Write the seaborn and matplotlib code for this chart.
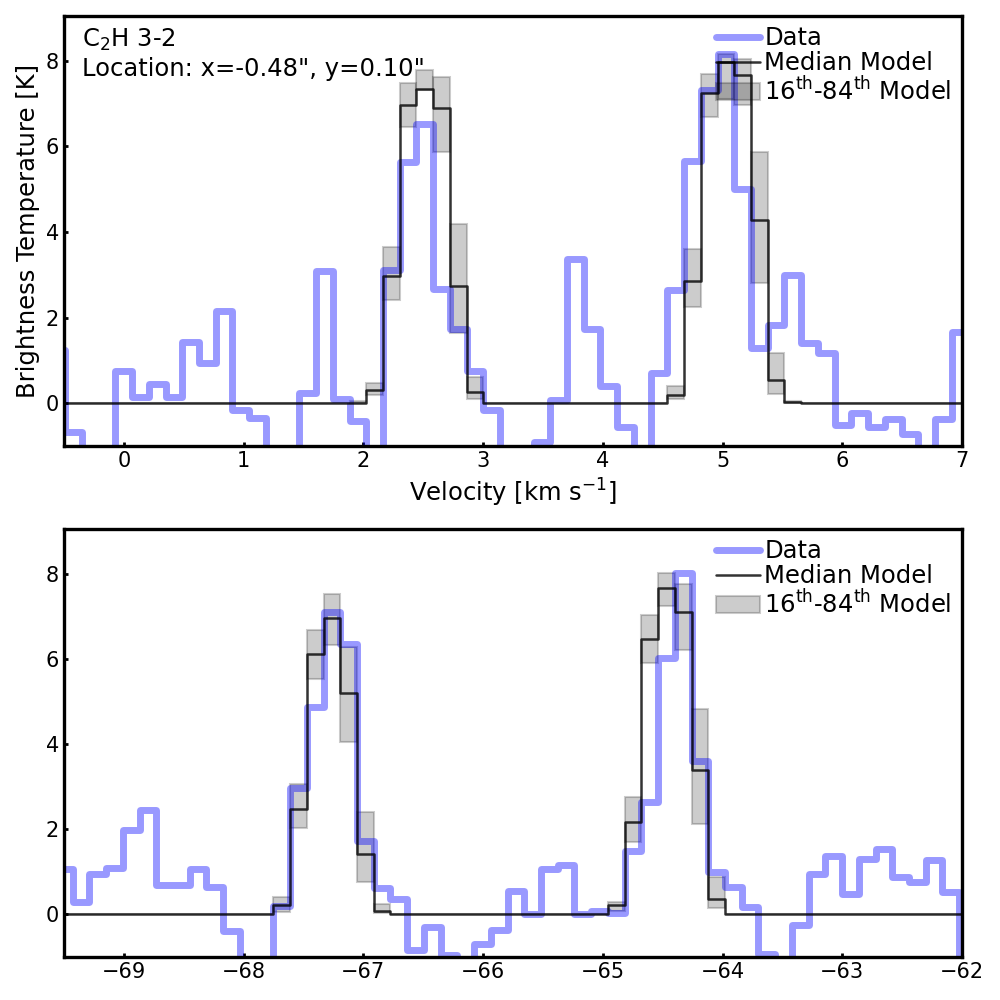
import numpy as np
import pandas as pd
import seaborn as sns
import matplotlib
matplotlib.use("Agg")
import matplotlib.pyplot as plt

# channel grid: 0.1397 km/s channels, first listed channel starts one step before the left edge
dv = 0.1397
top_start = -0.49 - dv
bot_start = -69.428 - dv

# ---- top panel (channels k = -1 .. 53) ----
data_top = [1.25, -0.67, -1.5, -1.5, 0.75, 0.15, 0.46, 0.15, 1.42, 0.93,
            2.16, -0.16, -0.34, -1.5, -1.5, 0.24, 3.10, 0.09, -0.42, -1.5,
            3.12, 5.63, 6.53, 2.67, 1.73, 0.75, -0.16, -1.5, -1.5, -0.91,
            0.07, 3.36, 1.73, 0.40, -0.56, -1.5, 0.71, 2.65, 5.66, 7.31,
            8.17, 5.00, 1.28, 1.83, 3.00, 1.40, 1.18, -0.52, -0.24, -0.56,
            -0.36, -0.71, -1.5, -0.36, 1.67]
median_top = [0, 0, 0, 0, 0, 0, 0, 0, 0, 0,
              0, 0, 0, 0, 0, 0, 0, 0, 0, 0.31,
              2.97, 6.97, 7.35, 6.89, 2.75, 0.27, 0, 0, 0, 0,
              0, 0, 0, 0, 0, 0, 0, 0.20, 2.85, 7.25,
              7.97, 7.66, 4.28, 0.54, 0.03, 0, 0, 0, 0, 0,
              0, 0, 0, 0, 0]
lo_top = [0, 0, 0, 0, 0, 0, 0, 0, 0, 0,
          0, 0, 0, 0, 0, 0, 0, 0, 0, 0.20,
          2.42, 6.45, 7.31, 5.86, 1.65, 0.11, 0, 0, 0, 0,
          0, 0, 0, 0, 0, 0, 0, 0.11, 2.26, 6.68,
          7.11, 6.96, 2.81, 0.21, 0.00, 0, 0, 0, 0, 0,
          0, 0, 0, 0, 0]
hi_top = [0, 0, 0, 0, 0, 0, 0, 0, 0, 0,
          0, 0, 0, 0, 0, 0, 0, 0, 0.05, 0.47,
          3.65, 7.49, 7.78, 7.62, 4.18, 0.62, 0, 0, 0, 0,
          0, 0, 0, 0, 0, 0, 0, 0.40, 3.61, 7.70,
          8.17, 8.05, 5.86, 1.18, 0.05, 0, 0, 0, 0, 0,
          0, 0, 0, 0, 0]

# ---- bottom panel (channels k = -1 .. 53) ----
data_bot = [1.07, 0.29, 0.95, 1.09, 1.99, 2.46, 0.70, 0.70, 1.07, 0.64,
            -0.38, -1.5, -1.5, 0.19, 2.98, 4.88, 7.10, 6.34, 1.73, 0.63,
            0.37, -0.84, -0.30, -0.96, -1.3, -0.69, -0.36, 0.56, 0.02, 1.07,
            1.15, 0.02, 0.09, 0.04, 1.50, 2.63, 6.03, 8.02, 3.61, 0.99,
            0.64, 0.17, -0.92, -1.5, -0.26, 0.95, 1.36, 0.48, 1.30, 1.54,
            0.89, 0.77, 1.27, 0.52, -1.5]
median_bot = [0, 0, 0, 0, 0, 0, 0, 0, 0, 0,
              0, 0, 0, 0.23, 2.48, 6.11, 6.95, 5.19, 1.42, 0.07,
              0, 0, 0, 0, 0, 0, 0, 0, 0, 0,
              0, 0, 0, 0.21, 2.16, 6.46, 7.67, 7.10, 3.38, 0.37,
              0, 0, 0, 0, 0, 0, 0, 0, 0, 0,
              0, 0, 0, 0, 0]
lo_bot = [0, 0, 0, 0, 0, 0, 0, 0, 0, 0,
          0, 0, 0, 0.05, 2.02, 5.52, 6.32, 4.04, 0.77, 0.04,
          0, 0, 0, 0, 0, 0, 0, 0, 0, 0,
          0, 0, 0, 0.09, 1.70, 5.90, 7.24, 6.21, 2.13, 0.15,
          0, 0, 0, 0, 0, 0, 0, 0, 0, 0,
          0, 0, 0, 0, 0]
hi_bot = [0, 0, 0, 0, 0, 0, 0, 0, 0, 0,
          0, 0, 0, 0.41, 3.06, 6.67, 7.52, 6.27, 2.40, 0.25,
          0, 0, 0, 0, 0, 0, 0, 0, 0, 0,
          0, 0, 0, 0.29, 2.75, 7.02, 8.02, 7.75, 4.82, 0.87,
          0, 0, 0, 0, 0, 0, 0, 0, 0, 0,
          0, 0, 0, 0, 0]

top_xticks = [0, 1, 2, 3, 4, 5, 6, 7]
bot_xticks = [-69, -68, -67, -66, -65, -64, -63, -62]
yticks = [0, 2, 4, 6, 8]

sns.set_style("white")
plt.rcParams["font.family"] = ["DejaVu Sans"]
plt.rcParams["axes.linewidth"] = 2.4
plt.rcParams["axes.edgecolor"] = "black"
plt.rcParams["text.color"] = "black"
plt.rcParams["axes.labelcolor"] = "black"
plt.rcParams["xtick.color"] = "black"
plt.rcParams["ytick.color"] = "black"
plt.rcParams["xtick.direction"] = "in"
plt.rcParams["ytick.direction"] = "in"

band_label = "16$^{\\rm th}$-84$^{\\rm th}$ Model"


def draw_panel(ax, start, data, median, lo, hi, xlim, xticks):
    n = len(data)
    edges = start + dv * np.arange(n + 1)
    centers = edges[:-1] + dv / 2
    df = pd.DataFrame({"v": edges, "data": data + [data[-1]],
                       "median": median + [median[-1]]})
    sns.lineplot(data=df, x="v", y="data", ax=ax, drawstyle="steps-post",
                 color="blue", alpha=0.4, lw=5, label="Data")
    ax.bar(centers, np.array(hi) - np.array(lo), bottom=lo, width=dv,
           color="k", alpha=0.2, edgecolor="k", lw=1.5, label=band_label)
    sns.lineplot(data=df, x="v", y="median", ax=ax, drawstyle="steps-post",
                 color="k", alpha=0.8, lw=1.8, label="Median Model")
    ax.set_xlim(*xlim)
    ax.set_ylim(-1, 9.05)
    ax.set_xticks(xticks)
    ax.set_yticks(yticks)
    ax.tick_params(labelsize=15, length=3, width=2, top=False, right=False,
                   left=True, bottom=True)
    ax.set_xlabel("")
    ax.set_ylabel("")
    h, l = ax.get_legend_handles_labels()
    order = [l.index("Data"), l.index("Median Model"), l.index(band_label)]
    ax.legend([h[i] for i in order], [l[i] for i in order], loc="upper right",
              frameon=False, fontsize=17.5, labelspacing=0.05,
              handlelength=1.8, handletextpad=0.2, borderpad=0.12,
              borderaxespad=0.3)


fig = plt.figure(figsize=(10, 10), dpi=100)
ax1 = fig.add_axes([0.064, 0.554, 0.898, 0.430])
ax2 = fig.add_axes([0.064, 0.043, 0.898, 0.428])

draw_panel(ax1, top_start, data_top, median_top, lo_top, hi_top, (-0.5, 7), top_xticks)
draw_panel(ax2, bot_start, data_bot, median_bot, lo_bot, hi_bot, (-69.5, -62), bot_xticks)

ax1.set_xlabel("Velocity [km s$^{-1}$]", fontsize=17.5, labelpad=4)
ax1.set_ylabel("Brightness Temperature [K]", fontsize=17.5, labelpad=4)
ax1.text(0.02, 0.975, "C$_2$H 3-2\nLocation: x=-0.48\", y=0.10\"",
         transform=ax1.transAxes, ha="left", va="top", fontsize=17.5)

fig.savefig("out.png", dpi=100)
